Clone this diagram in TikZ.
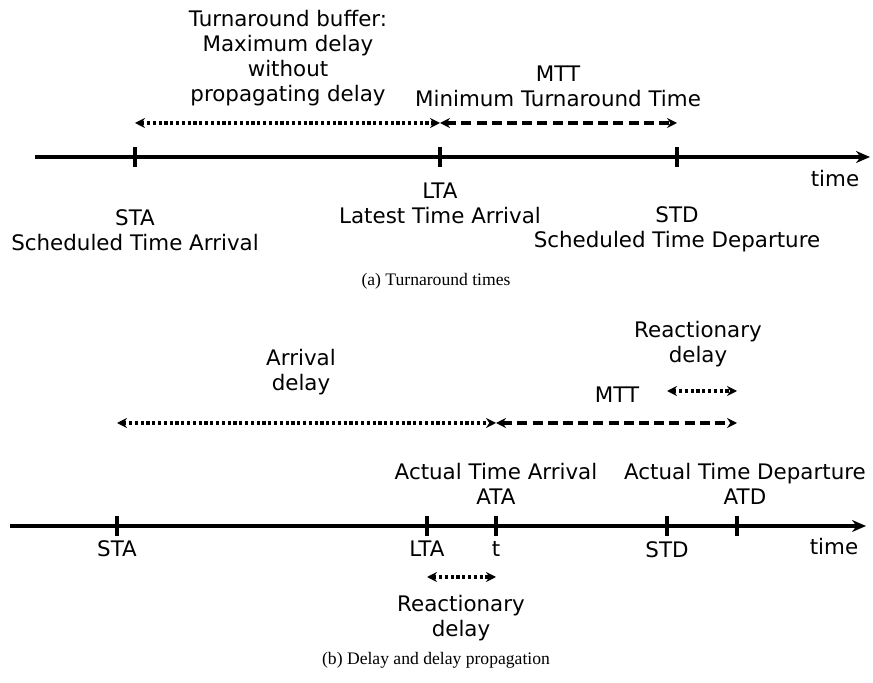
\documentclass[tikz,border=0pt]{standalone}
\usepackage{fontspec}
\setmainfont{Liberation Serif}
\newfontfamily\labelfont{DejaVu Sans}
\usetikzlibrary{arrows.meta}

\tikzset{
    axis/.style={line width=1.6pt, -{Stealth[length=7pt,width=6pt]}},
    tick/.style={line width=2pt},
    buffer/.style={line width=1.6pt, dash pattern=on 1.6pt off 1.3pt, {Stealth[length=5pt,width=5pt]}-{Stealth[length=5pt,width=5pt]}},
    turn/.style={line width=1.6pt, dash pattern=on 5pt off 2.6pt, {Stealth[length=5pt,width=5pt]}-{Stealth[length=5pt,width=5pt]}},
    lbl/.style={font=\labelfont\fontsize{10.7pt}{12.5pt}\selectfont, align=center, inner sep=0pt},
    captext/.style={font=\fontsize{8.8pt}{10pt}\selectfont, inner sep=0pt}
}

\begin{document}
\begin{tikzpicture}[x=0.5pt, y=-0.5pt]
    \useasboundingbox (0,0) rectangle (873,683);

    % ---------- (a) Turnaround times ----------
    \coordinate (a0) at (35,157);
    \coordinate (aend) at (870,157);
    \coordinate (sta) at (135,157);
    \coordinate (lta) at (440,157);
    \coordinate (std) at (677,157);
    \coordinate (ay) at (0,123);

    % time axis
    \draw[axis] (a0) -- (aend);
    \foreach \t in {sta,lta,std}
        \draw[tick] ([yshift=-5pt]\t) -- ([yshift=5pt]\t);

    % buffer and MTT
    \draw[buffer] (sta |- ay) -- (lta |- ay);
    \draw[turn] (lta |- ay) -- (std |- ay);

    \node[lbl] (buftext) at (288,58) {Turnaround buffer:\\Maximum delay\\without\\propagating delay};
    \node[lbl] (mtttext) at (558,86) {MTT\\Minimum Turnaround Time};

    % labels under the axis
    \node[lbl] (stalbl) at (135,230) {STA\\Scheduled Time Arrival};
    \node[lbl] (ltalbl) at (440,203) {LTA\\Latest Time Arrival};
    \node[lbl] (stdlbl) at (677,229) {STD\\Scheduled Time Departure};
    \node[lbl] (atime) at (835,179) {time};

    \node[captext] (capa) at (436,281) {(a) Turnaround times};

    % ---------- (b) Delay and delay propagation ----------
    \coordinate (b0) at (10,526);
    \coordinate (bend) at (866,526);
    \coordinate (bsta) at (117,526);
    \coordinate (blta) at (427,526);
    \coordinate (ata) at (496,526);
    \coordinate (bstd) at (667,526);
    \coordinate (atd) at (737,526);
    \coordinate (by) at (0,423);
    \coordinate (ry) at (0,391);
    \coordinate (ly) at (0,577);

    % time axis
    \draw[axis] (b0) -- (bend);
    \foreach \t in {bsta,blta,ata,bstd,atd}
        \draw[tick] ([yshift=-5pt]\t) -- ([yshift=5pt]\t);

    % delays
    \draw[buffer] (bsta |- by) -- (ata |- by);
    \draw[turn] (ata |- by) -- (atd |- by);
    \draw[buffer] (bstd |- ry) -- (atd |- ry);
    \draw[buffer] (blta |- ly) -- (ata |- ly);

    \node[lbl] (arrtext) at (301,372) {Arrival\\delay};
    \node[lbl] (bmtt) at (617,395) {MTT};
    \node[lbl] (reacttop) at (698,344) {Reactionary\\delay};
    \node[lbl] (reactbot) at (461,618) {Reactionary\\delay};

    % labels over the axis
    \node[lbl] (atalbl) at (496,484) {Actual Time Arrival\\ATA};
    \node[lbl] (atdlbl) at (745,484) {Actual Time Departure\\ATD};

    % labels under the axis
    \node[lbl] (bstalbl) at (117,549) {STA};
    \node[lbl] (bltalbl) at (427,549) {LTA};
    \node[lbl] (tlbl) at (496,549) {t};
    \node[lbl] (bstdlbl) at (667,550) {STD};
    \node[lbl] (btime) at (834,547) {time};

    \node[captext] (capb) at (436,660) {(b) Delay and delay propagation};
\end{tikzpicture}
\end{document}
